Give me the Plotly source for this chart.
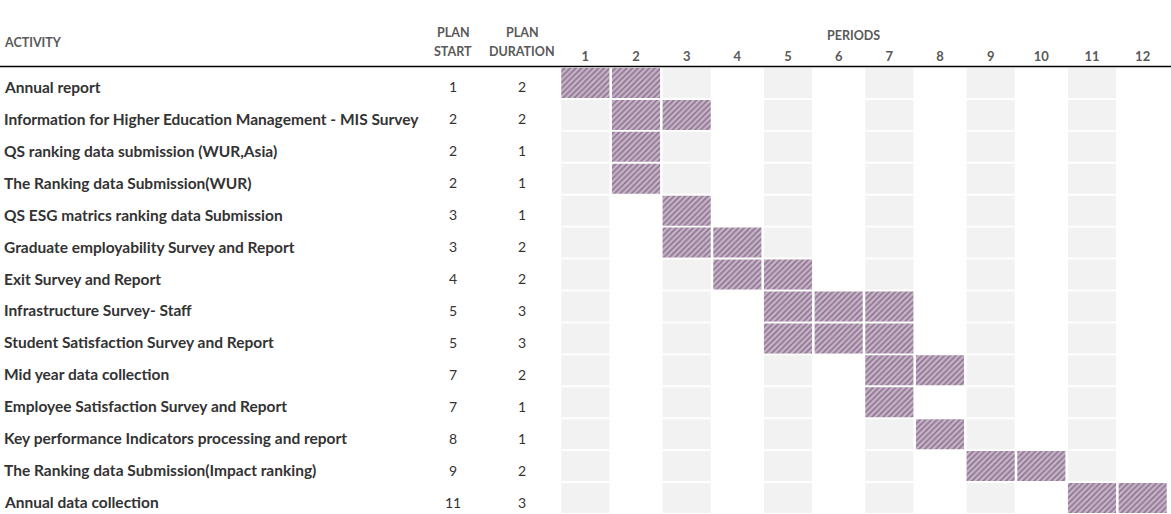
import plotly.graph_objects as go

activities = [
    "Annual report",
    "Information for Higher Education Management - MIS Survey",
    "QS ranking data submission (WUR,Asia)",
    "The Ranking data Submission(WUR)",
    "QS ESG matrics ranking data Submission",
    "Graduate employability Survey and Report",
    "Exit Survey and Report",
    "Infrastructure Survey- Staff",
    "Student Satisfaction Survey and Report",
    "Mid year data collection",
    "Employee Satisfaction Survey and Report",
    "Key performance Indicators processing and report",
    "The Ranking data Submission(Impact ranking)",
    "Annual data collection",
]
plan_start = [1, 2, 2, 2, 3, 3, 4, 5, 5, 7, 7, 8, 9, 11]
plan_duration = [2, 2, 1, 1, 1, 2, 2, 3, 3, 2, 1, 1, 2, 3]
periods = list(range(1, 13))

W, H = 1171, 514
def px(x):
    return x / W
def py(y):
    return 1 - y / H

fig = go.Figure()

# grey background cells in odd period columns
gy, gb, gx = [], [], []
for i in range(len(activities)):
    for p in periods:
        if p % 2 == 1:
            gy.append(i)
            gb.append(p - 0.475)
            gx.append(0.95)
fig.add_trace(go.Bar(
    y=gy, x=gx, base=gb, orientation="h", width=0.94,
    marker=dict(color="#f2f2f2", line=dict(width=0)),
    hoverinfo="skip", showlegend=False,
))

# hatched plan cells
hy, hb, hx, ht = [], [], [], []
for i, (s, d) in enumerate(zip(plan_start, plan_duration)):
    for p in range(s, s + d):
        hy.append(i)
        hb.append(p - 0.475)
        hx.append(0.95)
        ht.append(activities[i])
fig.add_trace(go.Bar(
    y=hy, x=hx, base=hb, orientation="h", width=0.94,
    marker=dict(
        color="#c9b3c9",
        line=dict(width=0),
        pattern=dict(shape="/", bgcolor="#c9b3c9", fgcolor="#4f3d57",
                     size=4, solidity=0.45),
    ),
    hovertext=ht, hoverinfo="text", showlegend=False,
))

annotations = []
text_font = dict(family="Lato", size=15.5, color="#333333", weight="bold")
num_font = dict(family="Lato", size=14, color="#333333")
for i, name in enumerate(activities):
    annotations.append(dict(text=name, xref="paper", yref="y", x=px(2), y=i,
                            xanchor="left", yanchor="middle", yshift=-4,
                            showarrow=False, font=text_font))
    annotations.append(dict(text=str(plan_start[i]), xref="paper", yref="y", x=px(453), y=i,
                            xanchor="center", yanchor="middle", yshift=-4,
                            showarrow=False, font=num_font))
    annotations.append(dict(text=str(plan_duration[i]), xref="paper", yref="y", x=px(522), y=i,
                            xanchor="center", yanchor="middle", yshift=-4,
                            showarrow=False, font=num_font))

hdr_font = dict(family="Lato", size=12.5, color="#595959", weight="bold")
for txt, x, y in [("ACTIVITY", 2, 42), ("PLAN", 453, 32), ("START", 453, 52),
                  ("PLAN", 522, 32), ("DURATION", 522, 52), ("PERIODS", 853, 36)]:
    annotations.append(dict(text=txt, xref="paper", yref="paper", x=px(x), y=py(y),
                            xanchor="left" if txt == "ACTIVITY" else "center",
                            yanchor="middle", showarrow=False, font=hdr_font))

fig.update_layout(
    width=W, height=H,
    margin=dict(l=0, r=0, t=0, b=0),
    paper_bgcolor="white", plot_bgcolor="white",
    barmode="overlay",
    annotations=annotations,
    shapes=[dict(type="line", xref="paper", yref="paper", x0=0, x1=1,
                 y0=py(66.5), y1=py(66.5), line=dict(color="black", width=1.5))],
    xaxis=dict(domain=[px(560), px(1168)], range=[0.5, 12.5], side="top",
               tickvals=periods, ticktext=[str(p) for p in periods],
               showgrid=False, zeroline=False, showline=False, ticks="",
               ticklabelstandoff=2,
               tickfont=dict(family="Lato", size=13, color="#595959", weight="bold"),
               fixedrange=True),
    yaxis=dict(domain=[0, py(67)], range=[13.5, -0.5], showgrid=False,
               zeroline=False, showline=False, showticklabels=False, fixedrange=True),
)

fig.write_html("out.html", config={"displayModeBar": False},
               post_script="document.body.style.margin='0';document.body.style.overflow='hidden';")
